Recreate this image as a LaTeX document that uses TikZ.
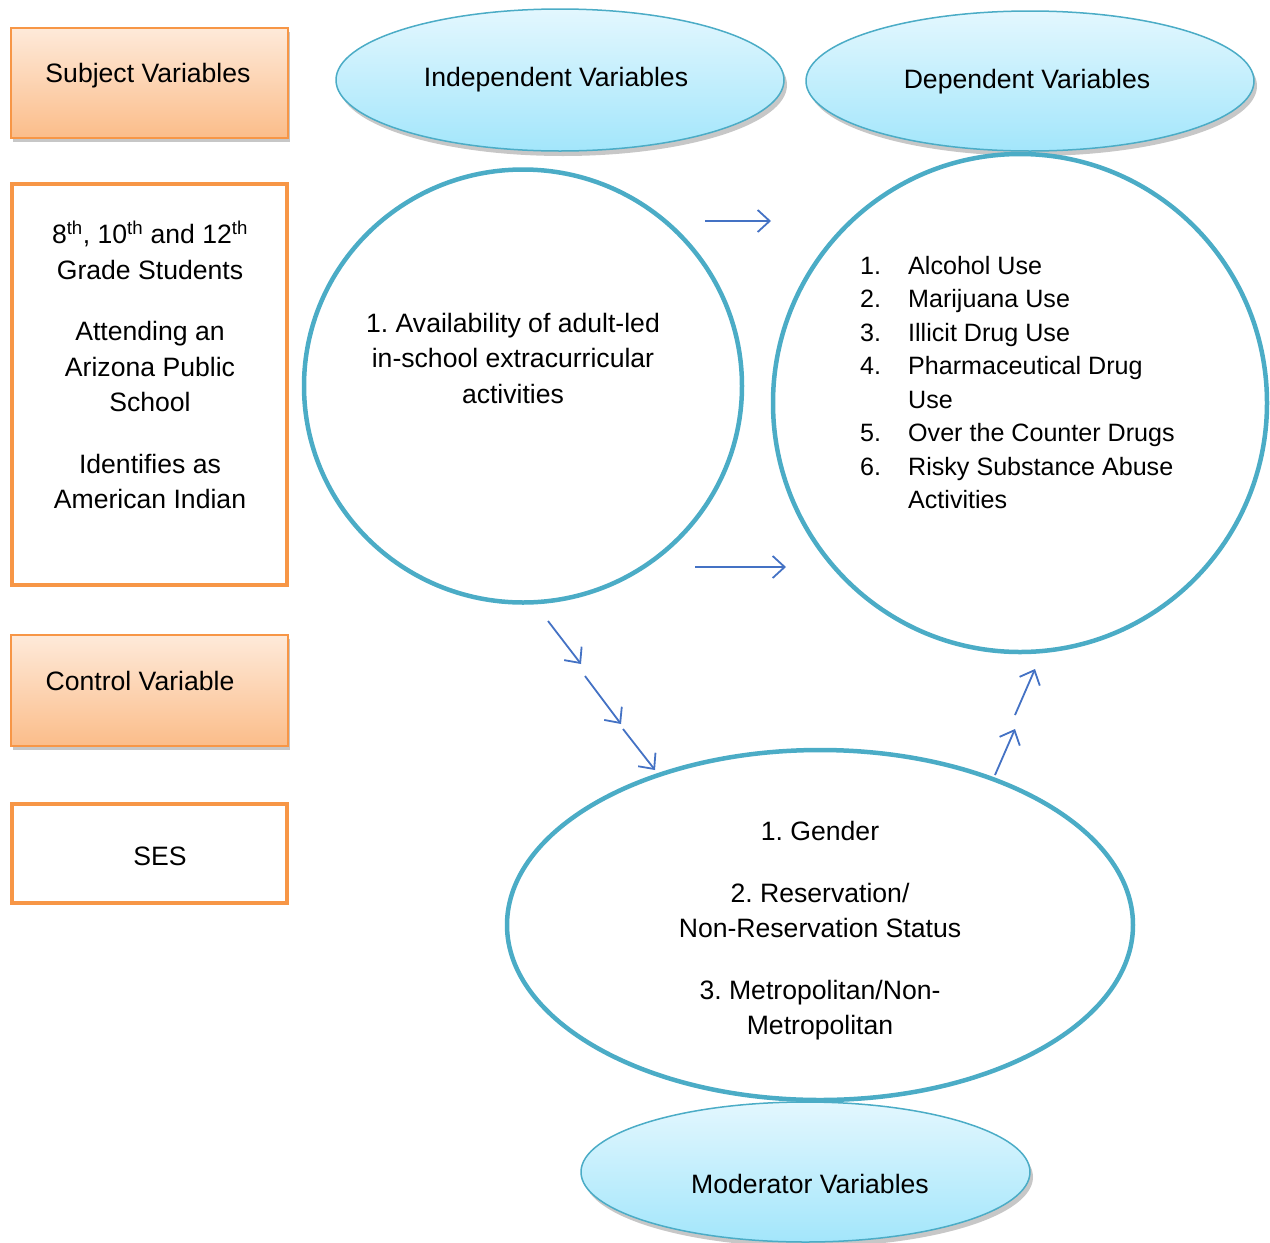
\documentclass[tikz,border=0pt]{standalone}
\usepackage{fontspec}
\setmainfont{Liberation Sans}
\usetikzlibrary{shapes.geometric,shadows,arrows.meta}
\definecolor{orangeB}{HTML}{F79646}
\definecolor{peachT}{HTML}{FEEADA}
\definecolor{peachB}{HTML}{FBBD8A}
\definecolor{cyanT}{HTML}{E3F7FE}
\definecolor{cyanB}{HTML}{A3E6FB}
\definecolor{tealB}{HTML}{4BACC6}
\definecolor{arrowC}{HTML}{4472C4}
\frenchspacing
\begin{document}
\begin{tikzpicture}[x=1pt,y=-1pt,
  font=\fontsize{26.6}{35.5}\selectfont,
  peachbox/.style={draw=orangeB, line width=2pt, top color=peachT, bottom color=peachB,
    minimum width=277pt, inner sep=0pt,
    drop shadow={shadow xshift=2pt, shadow yshift=-4pt, fill=black, opacity=0.22}},
  thickbox/.style={draw=orangeB, line width=4pt, fill=white, minimum width=275pt, inner sep=0pt},
  labelell/.style={ellipse, draw=tealB, line width=1.5pt, top color=cyanT, bottom color=cyanB,
    inner sep=0pt,
    drop shadow={shadow xshift=3pt, shadow yshift=-5pt, fill=black, opacity=0.22}},
  bigell/.style={ellipse, draw=tealB, line width=4.5pt, fill=white, inner sep=0pt},
  txt/.style={align=center, inner sep=0pt},
  arr/.style={draw=arrowC, line width=1.8pt, -{Straight Barb[length=12pt,width=22pt,line width=1.8pt]}}
]
\useasboundingbox (0,0) rectangle (1270,1243);

% left column boxes
\node[peachbox, minimum height=110pt] (subj) at (149.5,82.5) {};
\node[txt] (subjT) at (148,76) {Subject Variables};

\node[thickbox, minimum height=401pt] (grade) at (149.5,384.5) {};
\node[txt] (gradeT) at (150,365) {8\textsuperscript{th}, 10\textsuperscript{th} and 12\textsuperscript{th}\\
Grade Students\\[26pt]
Attending an\\ Arizona Public\\ School\\[26pt]
Identifies as\\ American Indian};

\node[peachbox, minimum height=111pt] (ctrl) at (149.5,690) {};
\node[txt] (ctrlT) at (140,681) {Control Variable};

\node[thickbox, minimum height=99pt] (ses) at (149.5,853.5) {};
\node[txt] (sesT) at (160,856) {SES};

% label ellipses
\node[labelell, minimum width=448pt, minimum height=142pt] (ivL) at (560,80) {};
\node[txt] (ivLT) at (556,80) {Independent Variables};
\node[labelell, minimum width=448pt, minimum height=140pt] (dvL) at (1030,81) {};
\node[txt] (dvLT) at (1027,82) {Dependent Variables};
\node[labelell, minimum width=449pt, minimum height=140pt] (modL) at (805.5,1172) {};
\node[txt] (modLT) at (810,1184) {Moderator Variables};

% big circles / ellipses
\node[bigell, minimum width=438pt, minimum height=433pt] (iv) at (523,386) {};
\node[txt] (ivT) at (513,358) {1. Availability of adult-led\\ in-school extracurricular\\ activities};

\node[bigell, minimum width=494pt, minimum height=498pt] (dv) at (1020,403) {};
\node[anchor=west, inner sep=0pt] (dvT) at (860,385) {\fontsize{25.1}{33.5}\selectfont
\begin{tabular}{@{}p{48pt}@{}l@{}}
1. & Alcohol Use\\
2. & Marijuana Use\\
3. & Illicit Drug Use\\
4. & Pharmaceutical Drug\\
   & Use\\
5. & Over the Counter Drugs\\
6. & Risky Substance Abuse\\
   & Activities
\end{tabular}};

\node[bigell, minimum width=626pt, minimum height=350pt] (mod) at (820,925) {};
\node[txt] (modT) at (820,931) {1. Gender\\[26pt]
2. Reservation/\\ Non-Reservation Status\\[26pt]
3. Metropolitan/Non-\\ Metropolitan};

% arrows
\coordinate (a1s) at (705,221);
\coordinate (a1e) at (771,221);
\coordinate (a2s) at (695,567);
\coordinate (a2e) at (786,567);
\coordinate (d1s) at (548,621);
\coordinate (d1e) at (581,664);
\coordinate (d2s) at (585,676);
\coordinate (d2e) at (621,724);
\coordinate (d3s) at (623,729);
\coordinate (d3e) at (655,770);
\coordinate (u1s) at (995,775);
\coordinate (u1e) at (1015,729);
\coordinate (u2s) at (1015,715);
\coordinate (u2e) at (1035,669);

\draw[arr] (a1s) -- (a1e);
\draw[arr] (a2s) -- (a2e);
\draw[arr] (d1s) -- (d1e);
\draw[arr] (d2s) -- (d2e);
\draw[arr] (d3s) -- (d3e);
\draw[arr] (u1s) -- (u1e);
\draw[arr] (u2s) -- (u2e);
\end{tikzpicture}
\end{document}
